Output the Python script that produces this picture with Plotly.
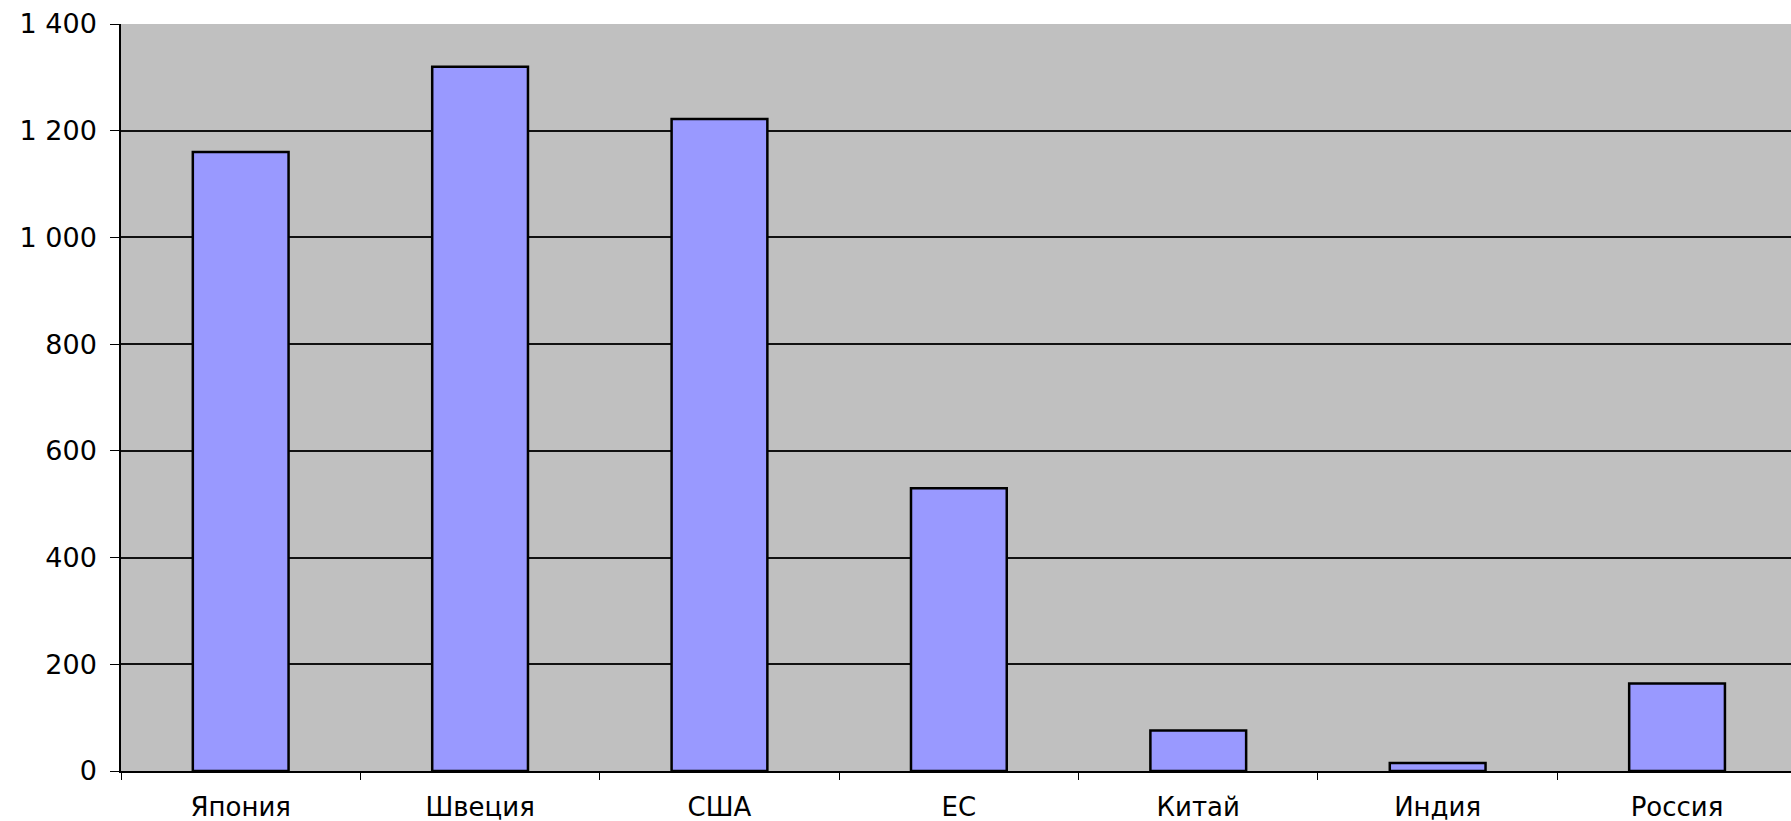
import plotly.graph_objects as go

# Country categories and their values
countries = ["Япония", "Швеция", "США", "ЕС", "Китай", "Индия", "Россия"]
values = [1160, 1320, 1222, 530, 76, 15, 164]

# Y-axis ticks with a space as thousands separator
y_tickvals = [0, 200, 400, 600, 800, 1000, 1200, 1400]
y_ticktext = ["0", "200", "400", "600", "800", "1 000", "1 200", "1 400"]

fig = go.Figure(
    go.Bar(
        x=countries,
        y=values,
        width=0.4,
        marker=dict(color="#9999FF", line=dict(color="#000000", width=2.5)),
        hoverinfo="x+y",
    )
)

font_family = "DejaVu Sans, Verdana, sans-serif"

fig.update_layout(
    width=1791,
    height=821,
    margin=dict(l=121, r=0, t=24, b=50),
    paper_bgcolor="#FFFFFF",
    plot_bgcolor="#C0C0C0",
    showlegend=False,
    font=dict(family=font_family, size=26, color="#000000"),
    bargap=0.6,
)

fig.update_xaxes(
    type="category",
    range=[-0.5, 6.476],
    automargin=False,
    showgrid=False,
    showline=True,
    linecolor="#000000",
    linewidth=1.5,
    ticks="outside",
    tickson="boundaries",
    ticklen=7,
    tickcolor="#000000",
    tickwidth=1,
    tickfont=dict(family=font_family, size=26, color="#000000"),
    ticklabelstandoff=12,
)

fig.update_yaxes(
    range=[0, 1400],
    automargin=False,
    tickmode="array",
    tickvals=y_tickvals,
    ticktext=y_ticktext,
    showgrid=True,
    gridcolor="#111111",
    gridwidth=1.5,
    zeroline=False,
    showline=True,
    linecolor="#000000",
    linewidth=1.5,
    ticks="outside",
    ticklen=9,
    tickcolor="#000000",
    tickwidth=1,
    tickfont=dict(family=font_family, size=27, color="#000000"),
    ticklabelstandoff=8,
)

fig.write_html("out.html")
